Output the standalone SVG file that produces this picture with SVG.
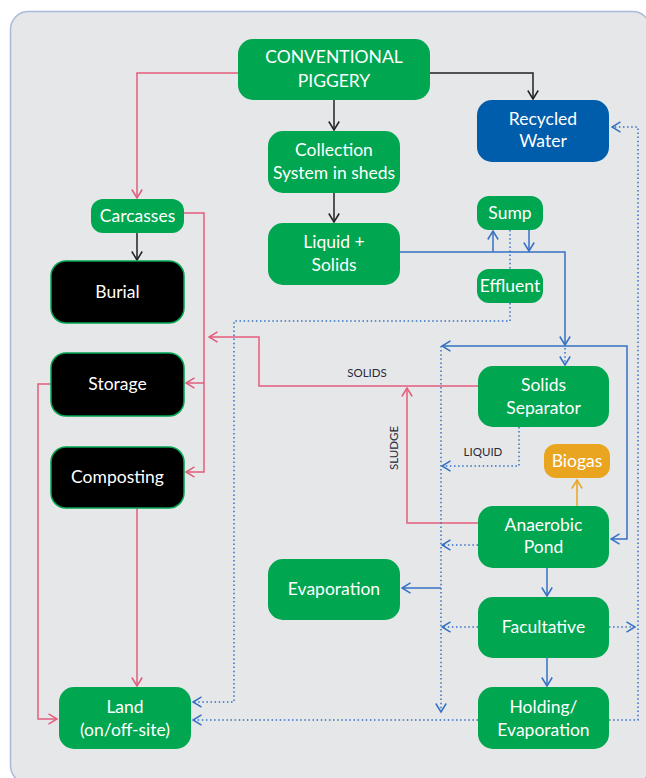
<svg xmlns="http://www.w3.org/2000/svg" width="646" height="778" viewBox="0 0 646 778">
<defs>
<style>
.g rect{fill:#00a650}
.k rect{fill:#000;stroke:#00a650;stroke-width:1.5}
.b rect{fill:#005dab}
.o rect{fill:#eaa520}
text{font-family:Lato,"Open Sans","Liberation Sans",sans-serif;font-size:17.5px;fill:#fff;text-anchor:middle}
text.lbl{font-size:11.5px;fill:#2a2a3a;font-weight:normal}
.c path{fill:none;stroke-width:1.5}
.bk{stroke:#222;marker-end:url(#mk)}
.rda{stroke:#e35d7c;marker-end:url(#mr)}
.bl{stroke:#3571c2}
.bla{stroke:#3571c2;marker-end:url(#mb)}
.dt{stroke:#3571c2;stroke-dasharray:1.5 2.6}
.dta{stroke:#3571c2;stroke-dasharray:1.5 2.6;marker-end:url(#mb)}
.or{stroke:#eaa520;marker-end:url(#mo)}
</style>
<marker id="mk" viewBox="0 0 12 12" refX="10.5" refY="6" markerWidth="12" markerHeight="12" markerUnits="userSpaceOnUse" orient="auto"><path d="M2,0.8 L10.5,6 L2,11.2" fill="none" stroke="#222" stroke-width="1.5"/></marker>
<marker id="mr" viewBox="0 0 12 12" refX="10.5" refY="6" markerWidth="12" markerHeight="12" markerUnits="userSpaceOnUse" orient="auto"><path d="M2,0.8 L10.5,6 L2,11.2" fill="none" stroke="#e35d7c" stroke-width="1.5"/></marker>
<marker id="mb" viewBox="0 0 12 12" refX="10.5" refY="6" markerWidth="12" markerHeight="12" markerUnits="userSpaceOnUse" orient="auto"><path d="M2,0.8 L10.5,6 L2,11.2" fill="none" stroke="#3571c2" stroke-width="1.5"/></marker>
<marker id="mo" viewBox="0 0 12 12" refX="10.5" refY="6" markerWidth="12" markerHeight="12" markerUnits="userSpaceOnUse" orient="auto"><path d="M2,0.8 L10.5,6 L2,11.2" fill="none" stroke="#eaa520" stroke-width="1.5"/></marker>
</defs>
<rect x="0" y="0" width="646" height="778" fill="#fff"/>
<rect x="10.5" y="11.5" width="640" height="772" rx="18" fill="#e6e7e9" stroke="#a9b9d9" stroke-width="1.5"/>

<g id="connectors" class="c">
<path class="bk" d="M334,100 V130"/>
<path class="bk" d="M430,73 H533 V99"/>
<path class="bk" d="M334,193 V222"/>
<path class="bk" d="M137,233 V260"/>
<path class="rda" d="M238,73 H137 V198"/>
<path class="rda" d="M184,213 H204 V472 H186"/>
<path class="rda" d="M204,383 H186"/>
<path class="rda" d="M478,386 H259 V337 H209"/>
<path class="rda" d="M478,523 H407 V388"/>
<path class="rda" d="M51,384 H38 V719 H57"/>
<path class="rda" d="M137,508 V686"/>
<path class="dt" d="M510,230 V269"/>
<path class="dta" d="M510,303 V321 H234 V702 H193"/>
<path class="dta" d="M441,346 V712"/>
<path class="dta" d="M565,348 V365"/>
<path class="dta" d="M519,427 V466 H442"/>
<path class="dta" d="M478,545 H442"/>
<path class="dta" d="M478,627 H442"/>
<path class="dta" d="M609,627 H635"/>
<path class="dta" d="M609,720 H638 V127 H612"/>
<path class="dta" d="M478,720 H193"/>
<path class="bla" d="M400,252 H565 V345"/>
<path class="bla" d="M493,252 V231"/>
<path class="bla" d="M529,230 V251"/>
<path class="bla" d="M565,346 H442"/>
<path class="bla" d="M565,346 H627 V539 H611"/>
<path class="bla" d="M547,568 V596"/>
<path class="bla" d="M547,658 V686"/>
<path class="bla" d="M441,588 H402"/>
<path class="or" d="M577,506 V480"/>
</g>

<g id="labels">
<text class="lbl" x="367" y="377">SOLIDS</text>
<text class="lbl" x="483" y="456">LIQUID</text>
<text class="lbl" transform="translate(398,448) rotate(-90)">SLUDGE</text>
</g>

<g id="piggery" class="g"><rect x="238" y="39" width="192" height="61" rx="15"/><text x="334" y="63">CONVENTIONAL</text><text x="334" y="87">PIGGERY</text></g>
<g id="recycled" class="b"><rect x="477" y="100" width="132" height="62" rx="15"/><text x="543" y="125">Recycled</text><text x="543" y="147">Water</text></g>
<g id="collection" class="g"><rect x="268" y="131" width="132" height="62" rx="15"/><text x="334" y="156">Collection</text><text x="334" y="179">System in sheds</text></g>
<g id="liquid" class="g"><rect x="268" y="223" width="132" height="62" rx="15"/><text x="334" y="248">Liquid +</text><text x="334" y="271">Solids</text></g>
<g id="carcasses" class="g"><rect x="91" y="199" width="93" height="34" rx="12"/><text x="137.5" y="222">Carcasses</text></g>
<g id="burial" class="k"><rect x="51" y="261" width="133" height="62" rx="15"/><text x="117.5" y="298">Burial</text></g>
<g id="storage" class="k"><rect x="51" y="353" width="133" height="63" rx="15"/><text x="117.5" y="390">Storage</text></g>
<g id="composting" class="k"><rect x="51" y="447" width="133" height="61" rx="15"/><text x="117.5" y="483">Composting</text></g>
<g id="land" class="g"><rect x="59" y="687" width="132" height="62" rx="15"/><text x="125" y="713">Land</text><text x="125" y="736">(on/off-site)</text></g>
<g id="sump" class="g"><rect x="477" y="196" width="66" height="34" rx="12"/><text x="510" y="219">Sump</text></g>
<g id="effluent" class="g"><rect x="477" y="269" width="66" height="34" rx="12"/><text x="510" y="292">Effluent</text></g>
<g id="separator" class="g"><rect x="478" y="366" width="131" height="61" rx="15"/><text x="543.5" y="391">Solids</text><text x="543.5" y="414">Separator</text></g>
<g id="biogas" class="o"><rect x="544" y="444" width="66" height="34" rx="12"/><text x="577" y="467">Biogas</text></g>
<g id="anaerobic" class="g"><rect x="478" y="506" width="131" height="62" rx="15"/><text x="543.5" y="531">Anaerobic</text><text x="543.5" y="553">Pond</text></g>
<g id="evaporation" class="g"><rect x="268" y="559" width="132" height="61" rx="15"/><text x="334" y="595">Evaporation</text></g>
<g id="facultative" class="g"><rect x="478" y="597" width="131" height="61" rx="15"/><text x="543.5" y="633">Facultative</text></g>
<g id="holding" class="g"><rect x="478" y="687" width="131" height="62" rx="15"/><text x="543.5" y="713">Holding/</text><text x="543.5" y="736">Evaporation</text></g>
</svg>
